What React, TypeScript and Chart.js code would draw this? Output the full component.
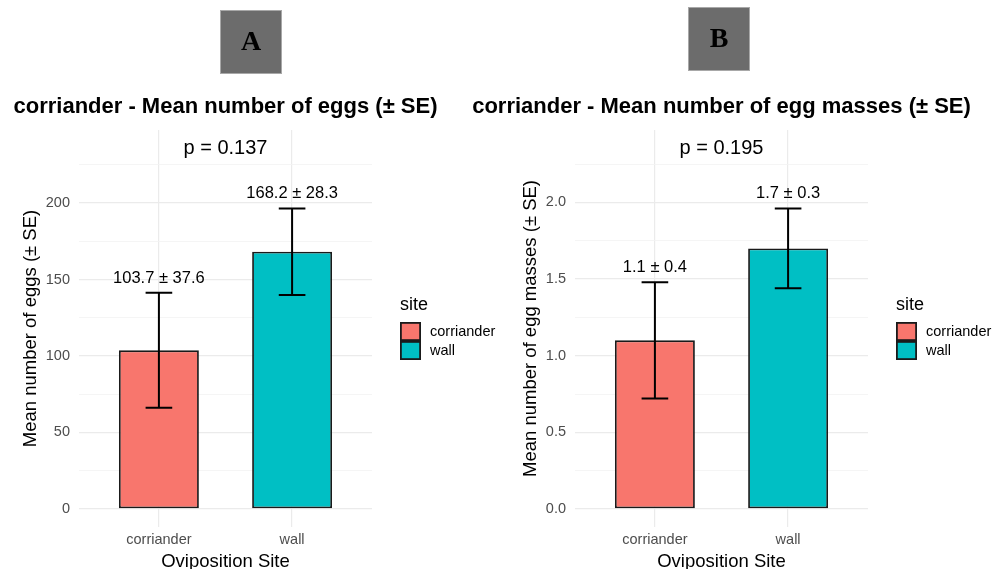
import React, { useEffect, useRef } from 'react';
import { Chart, registerables } from 'chart.js';

Chart.register(...registerables);

// ---------- data ----------
const categories = ['corriander', 'wall'];
const siteColors = ['#F8766D', '#00BFC4'];

const eggMeans = [103.7, 168.2];
const eggSE = [37.6, 28.3];
const eggLabels = ['103.7 ± 37.6', '168.2 ± 28.3'];
const eggMajorTicks = [0, 50, 100, 150, 200];
const eggMinorTicks = [25, 75, 125, 175, 225];
const eggRange = [-11.8, 247.8];
const eggP = 'p = 0.137';
const eggPY = 236;

const massMeans = [1.1, 1.7];
const massSE = [0.38, 0.26];
const massLabels = ['1.1 ± 0.4', '1.7 ± 0.3'];
const massMajorTicks = [0, 0.5, 1, 1.5, 2];
const massMinorTicks = [0.25, 0.75, 1.25, 1.75, 2.25];
const massRange = [-0.118, 2.473];
const massP = 'p = 0.195';
const massPY = 2.352;

const FAMILY = '"Liberation Sans", Arial, Helvetica, sans-serif';
const SERIF = '"Liberation Serif", "Times New Roman", serif';
const H = 569;

type PanelDef = {
  letter: string;
  boxX: number;
  boxY: number;
  title: string;
  yTitle: string;
  yTitlePad: number;
  means: number[];
  se: number[];
  labels: string[];
  major: number[];
  minor: number[];
  range: number[];
  p: string;
  pY: number;
  fmt: (v: number) => string;
};

const panels: PanelDef[] = [
  {
    letter: 'A', boxX: 220, boxY: 10,
    title: 'corriander - Mean number of eggs (± SE)',
    yTitle: 'Mean number of eggs (± SE)', yTitlePad: 21.5,
    means: eggMeans, se: eggSE, labels: eggLabels,
    major: eggMajorTicks, minor: eggMinorTicks, range: eggRange,
    p: eggP, pY: eggPY, fmt: (v) => String(v),
  },
  {
    letter: 'B', boxX: 688, boxY: 7,
    title: 'corriander - Mean number of egg masses (± SE)',
    yTitle: 'Mean number of egg masses (± SE)', yTitlePad: 25.5,
    means: massMeans, se: massSE, labels: massLabels,
    major: massMajorTicks, minor: massMinorTicks, range: massRange,
    p: massP, pY: massPY, fmt: (v) => v.toFixed(1),
  },
];

// canvas placement: [canvasLeft, canvasWidth, plotLeft(page), plotRight(page)]
const placement = [
  [0, 496, 79, 372],
  [440, 556, 575, 868],
];

function makeOverlay(p: PanelDef, canvasLeft: number) {
  return {
    id: 'overlay_' + p.letter,
    afterDatasetsDraw(chart: any) {
      const { ctx, scales } = chart;
      const x = scales.x, y = scales.y;
      ctx.save();
      ctx.strokeStyle = '#000';
      ctx.lineWidth = 2;
      p.means.forEach((m, i) => {
        const cx = x.getPixelForValue(i + 1);
        const x0 = x.getPixelForValue(i + 1 - 0.1);
        const x1 = x.getPixelForValue(i + 1 + 0.1);
        const yt = y.getPixelForValue(m + p.se[i]);
        const yb = y.getPixelForValue(m - p.se[i]);
        ctx.beginPath();
        ctx.moveTo(cx, yt); ctx.lineTo(cx, yb);
        ctx.moveTo(x0, yt); ctx.lineTo(x1, yt);
        ctx.moveTo(x0, yb); ctx.lineTo(x1, yb);
        ctx.stroke();
        ctx.fillStyle = '#000';
        ctx.font = `16.5px ${FAMILY}`;
        ctx.textAlign = 'center';
        ctx.textBaseline = 'middle';
        ctx.fillText(p.labels[i], cx, yt - 14.8);
      });
      ctx.font = `20px ${FAMILY}`;
      ctx.fillStyle = '#000';
      ctx.textAlign = 'center';
      ctx.textBaseline = 'middle';
      ctx.fillText(p.p, x.getPixelForValue(1.5), y.getPixelForValue(p.pY));
      ctx.restore();
    },
    afterDraw(chart: any) {
      const { ctx, chartArea } = chart;
      ctx.save();
      const bx = p.boxX - canvasLeft;
      ctx.fillStyle = '#6c6c6c';
      ctx.fillRect(bx, p.boxY, 62, 64);
      ctx.strokeStyle = '#a8a8a8';
      ctx.lineWidth = 1;
      ctx.strokeRect(bx + 0.5, p.boxY + 0.5, 61, 63);
      ctx.fillStyle = '#000';
      ctx.font = `bold 28px ${SERIF}`;
      ctx.textAlign = 'center';
      ctx.textBaseline = 'alphabetic';
      ctx.fillText(p.letter, bx + 31, p.boxY + 40);
      ctx.font = `bold 22px ${FAMILY}`;
      ctx.textBaseline = 'middle';
      ctx.fillText(p.title, (chartArea.left + chartArea.right) / 2, 107);
      const lx = chartArea.right + 28;
      ctx.textAlign = 'left';
      ctx.font = `18px ${FAMILY}`;
      ctx.fillText('site', lx, 305);
      ctx.font = `14.5px ${FAMILY}`;
      categories.forEach((c, i) => {
        const ky = 322 + i * 19;
        ctx.fillStyle = siteColors[i];
        ctx.fillRect(lx, ky, 21, 19);
        ctx.strokeStyle = '#1a1a1a';
        ctx.lineWidth = 1.8;
        ctx.strokeRect(lx + 0.9, ky + 0.9, 19.2, 17.2);
        ctx.fillStyle = '#000';
        ctx.fillText(c, lx + 30, ky + 10);
      });
      ctx.restore();
    },
  };
}

function buildConfig(p: PanelDef, place: number[]): any {
  const [canvasLeft, width, plotLeft, plotRight] = place;
  const padLeft = plotLeft - canvasLeft - 79;
  const padRight = width - (plotRight - canvasLeft);
  const allTicks = [...p.major, ...p.minor].sort((a, b) => a - b);
  const isMajor = (v: number) => p.major.some((m) => Math.abs(m - v) < 1e-9);
  return {
    type: 'bar',
    data: {
      datasets: [
        {
          data: p.means.map((m, i) => ({ x: i + 1, y: m })),
          backgroundColor: siteColors,
          borderColor: '#1a1a1a',
          borderWidth: 1.8,
          borderSkipped: false,
          barPercentage: 0.6,
          categoryPercentage: 1,
        },
      ],
    },
    options: {
      responsive: false,
      animation: false,
      layout: { padding: { top: 130, right: padRight, bottom: 0, left: padLeft } },
      plugins: {
        legend: { display: false },
        tooltip: { enabled: false },
        title: { display: false },
      },
      scales: {
        x: {
          type: 'linear',
          min: 0.4,
          max: 2.6,
          offset: false,
          afterBuildTicks: (s: any) => {
            s.ticks = categories.map((_, i) => ({ value: i + 1 }));
          },
          afterFit: (s: any) => { s.height = 42; },
          ticks: {
            callback: (v: number) => categories[Math.round(v) - 1] ?? '',
            color: '#4d4d4d',
            font: { size: 14.5, family: FAMILY, lineHeight: 1.2 },
            padding: 4.2,
            autoSkip: false,
            maxRotation: 0,
          },
          grid: { color: '#ebebeb', lineWidth: 1.2, drawTicks: false, offset: false },
          border: { display: false },
          title: {
            display: true,
            text: 'Oviposition Site',
            color: '#000',
            font: { size: 18.5, family: FAMILY, lineHeight: 0.79 },
            padding: 0,
          },
        },
        y: {
          type: 'linear',
          min: p.range[0],
          max: p.range[1],
          afterBuildTicks: (s: any) => {
            s.ticks = allTicks.map((v) => ({ value: v }));
          },
          afterFit: (s: any) => { s.width = 79; },
          ticks: {
            callback: (v: number) => (isMajor(v) ? p.fmt(v) : ''),
            color: '#4d4d4d',
            font: { size: 14.5, family: FAMILY },
            padding: 9,
            autoSkip: false,
          },
          grid: {
            color: (ctx: any) => (ctx.tick && isMajor(ctx.tick.value) ? '#ebebeb' : '#f3f3f3'),
            lineWidth: (ctx: any) => (ctx.tick && isMajor(ctx.tick.value) ? 1.2 : 0.8),
            drawTicks: false,
          },
          border: { display: false },
          title: {
            display: true,
            text: p.yTitle,
            color: '#000',
            font: { size: 18.5, family: FAMILY, lineHeight: 1 },
            padding: { top: p.yTitlePad, bottom: 0 },
          },
        },
      },
    },
    plugins: [makeOverlay(p, canvasLeft)],
  };
}

function Panel({ p, place }: { p: PanelDef; place: number[] }) {
  const ref = useRef<HTMLCanvasElement>(null);
  useEffect(() => {
    const chart = new Chart(ref.current as HTMLCanvasElement, buildConfig(p, place));
    return () => chart.destroy();
  }, [p, place]);
  return (
    <canvas
      ref={ref}
      width={place[1]}
      height={H}
      style={{ position: 'absolute', left: place[0], top: 0, width: place[1], height: H }}
    />
  );
}

export default function App() {
  return (
    <div style={{ position: 'absolute', left: 0, top: 0, width: 996, height: H, background: '#fff', overflow: 'hidden' }}>
      <Panel p={panels[0]} place={placement[0]} />
      <Panel p={panels[1]} place={placement[1]} />
    </div>
  );
}
